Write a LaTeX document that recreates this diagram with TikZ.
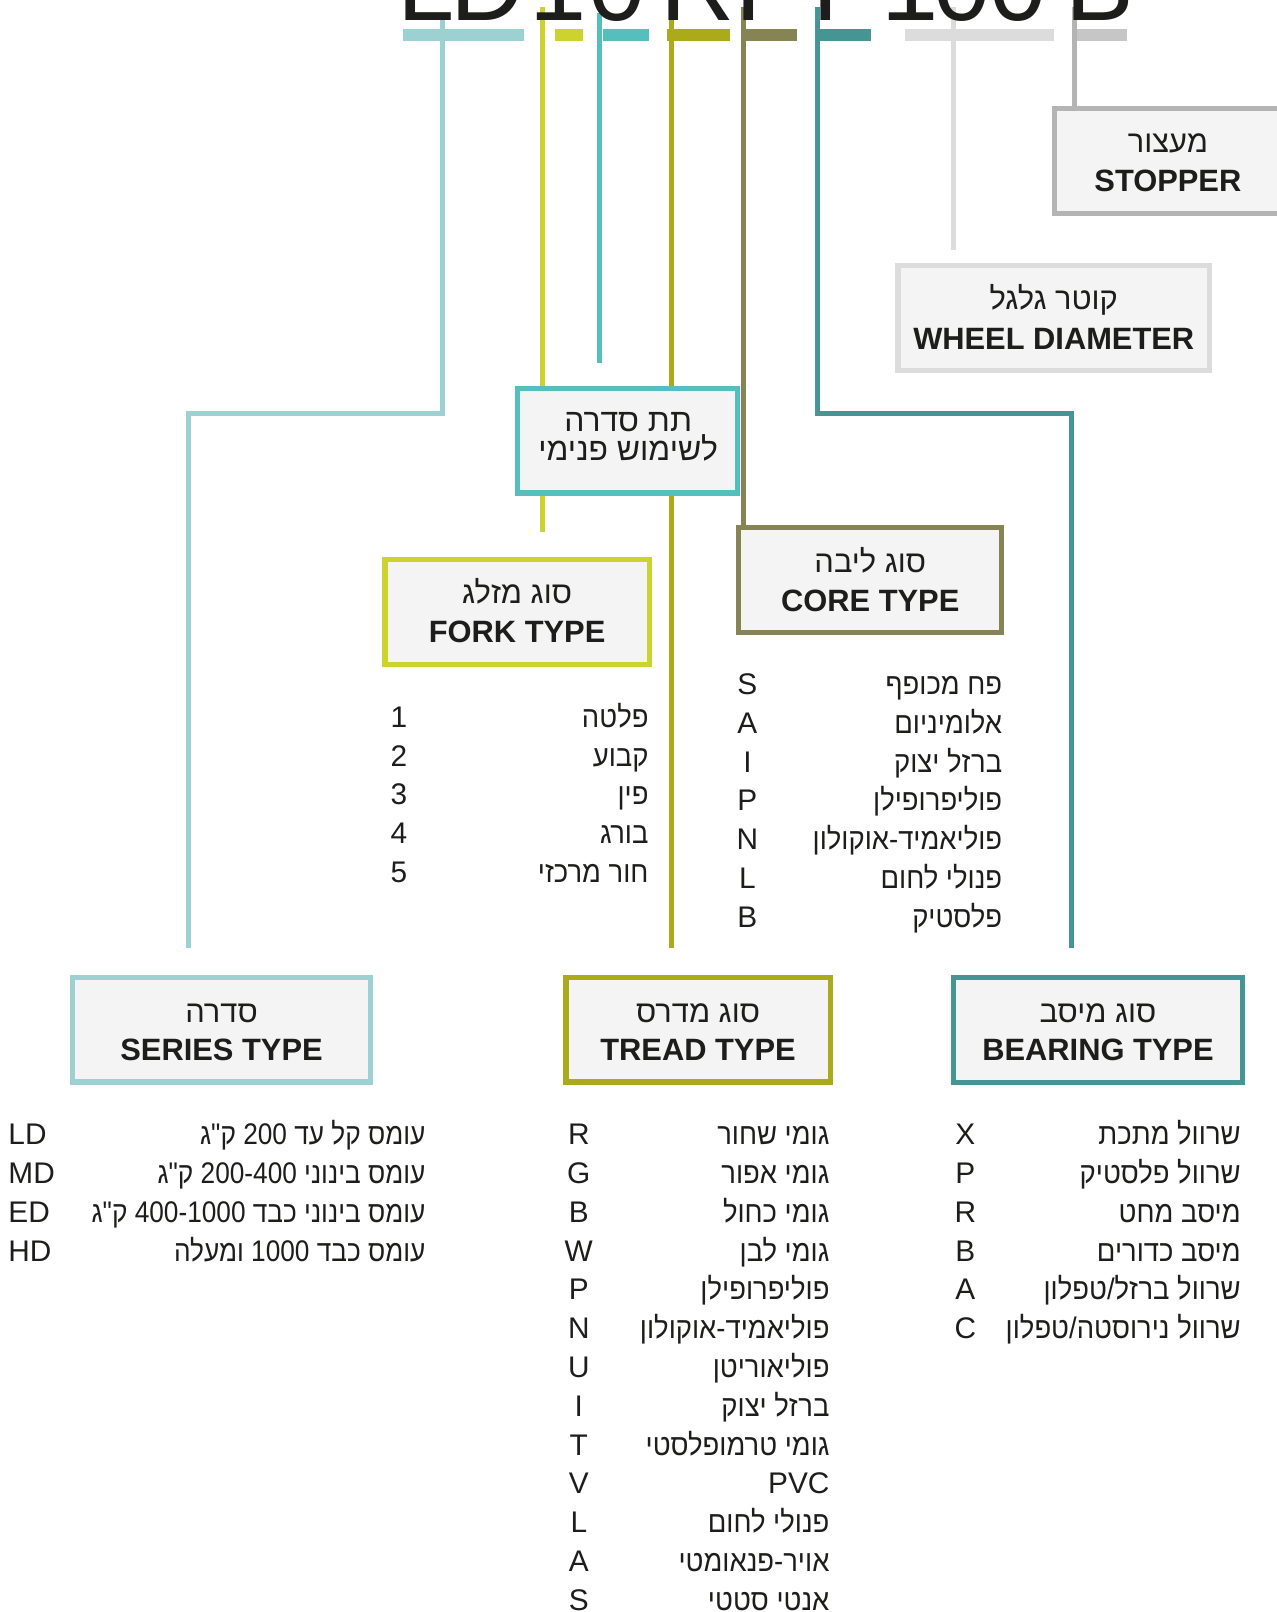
\documentclass[tikz,border=0pt]{standalone}
\usepackage{fontspec}
\setmainfont{Liberation Sans}
\newfontfamily\heb[Script=Hebrew]{Liberation Sans}
\newfontfamily\hebn[Script=Hebrew,FakeStretch=0.92]{Liberation Sans}
\newfontfamily\hebs[Script=Hebrew,FakeStretch=0.88]{Liberation Sans}
\TeXXeTstate=1
\newcommand\HE[1]{{\heb\beginR#1\endR}}
\newcommand\HN[1]{{\hebn\beginR#1\endR}}
\newcommand\HS[1]{{\hebs\beginR#1\endR}}
\newcommand\LTR[1]{\beginL#1\endL{}}
\definecolor{cSeries}{HTML}{9DD0D1}
\definecolor{cFork}{HTML}{CDD32E}
\definecolor{cSub}{HTML}{55BFBD}
\definecolor{cTread}{HTML}{AAAA1A}
\definecolor{cCore}{HTML}{868455}
\definecolor{cBear}{HTML}{449594}
\definecolor{cDiam}{HTML}{DCDCDC}
\definecolor{cStopBar}{HTML}{C6C6C6}
\definecolor{cStop}{HTML}{B4B4B4}
\definecolor{cFill}{HTML}{F4F4F4}
\definecolor{cText}{HTML}{1D1D1B}
\pgfdeclarelayer{bg}
\pgfsetlayers{bg,main}
\tikzset{
  box/.style={draw=#1, line width=5pt, fill=cFill, minimum height=102pt, inner sep=0pt},
  htit/.style={anchor=base, inner sep=0pt, text=cText, font=\fontsize{30}{30}\selectfont},
  ltit/.style={anchor=base, inner sep=0pt, text=cText, font=\fontsize{30}{30}\selectfont\bfseries},
  link/.style={draw=#1, line width=4.9pt},
  item/.style={anchor=base east, inner sep=0pt, text=cText, font=\fontsize{29}{30}\selectfont},
  code/.style={anchor=base, inner sep=0pt, text=cText, font=\fontsize{29}{30}\selectfont},
  codew/.style={anchor=base west, inner sep=0pt, text=cText, font=\fontsize{29}{30}\selectfont},
}
\begin{document}
\begin{tikzpicture}[x=1pt,y=-1pt]
\useasboundingbox (0,0) rectangle (1242,1568);
\clip (0,0) rectangle (1242,1568);

% ---- boxes ----
\node[box=cStop, minimum width=221pt] (stopper) at (1136,156.5) {};
\node[htit] (stopperH) at (1136,148.5) {\HE{מעצור}};
\node[ltit] (stopperL) at (1136,186.5) {STOPPER};

\node[box=cDiam, minimum width=303pt] (diam) at (1025,309.5) {};
\node[htit] (diamH) at (1025,301.5) {\HE{קוטר גלגל}};
\node[ltit] (diamL) at (1025,339.5) {WHEEL DIAMETER};

\node[box=cSub, minimum width=214pt] (sub) at (610.5,428.5) {};
\node[htit, font=\fontsize{31}{31}\selectfont] (subH1) at (611,420) {\HE{תת סדרה}};
\node[htit, font=\fontsize{31}{31}\selectfont] (subH2) at (611,448) {\HE{לשימוש פנימי}};

\node[box=cFork, minimum width=257pt] (fork) at (503,595) {};
\node[htit] (forkH) at (503,587.5) {\HE{סוג מזלג}};
\node[ltit] (forkL) at (503,624.5) {FORK TYPE};

\node[box=cCore, minimum width=256pt] (core) at (846.5,564.5) {};
\node[htit] (coreH) at (846.5,557) {\HE{סוג ליבה}};
\node[ltit] (coreL) at (846.5,594.5) {CORE TYPE};

\node[box=cSeries, minimum width=290pt] (series) at (215.5,1001.5) {};
\node[htit] (seriesH) at (215.5,994.5) {\HE{סדרה}};
\node[ltit] (seriesL) at (215.5,1031.5) {SERIES TYPE};

\node[box=cTread, minimum width=257pt] (tread) at (679,1001.5) {};
\node[htit] (treadH) at (679,994.5) {\HE{סוג מדרס}};
\node[ltit] (treadL) at (679,1031.5) {TREAD TYPE};

\node[box=cBear, minimum width=281pt] (bearing) at (1068,1002) {};
\node[htit] (bearingH) at (1068,994.5) {\HE{סוג מיסב}};
\node[ltit] (bearingL) at (1068,1031.5) {BEARING TYPE};

% ---- connector coordinates ----
\coordinate (tSeries) at (430.5,19.5);
\coordinate (kSeries) at (183.5,402);
\coordinate (eSeries) at (183.5,922);
\coordinate (tFork) at (527.7,7);
\coordinate (eFork) at (527.7,517);
\coordinate (tSub) at (583,13);
\coordinate (eSub) at (583,353);
\coordinate (tTread) at (653,19.5);
\coordinate (eTread) at (653,922);
\coordinate (tCore) at (723.4,7);
\coordinate (tBear) at (795.3,7);
\coordinate (kBear) at (1042,402);
\coordinate (eBear) at (1042,922);
\coordinate (tDiam) at (927.3,7);
\coordinate (eDiam) at (927.3,243);
\coordinate (tStop) at (1045.2,7);

\begin{pgfonlayer}{bg}
\fill[cSeries] (391.7,28.2) rectangle (509.7,39.6);
\fill[cFork] (540,28.2) rectangle (566.8,39.6);
\fill[cSub] (587,28.2) rectangle (631.3,39.6);
\fill[cTread] (648.5,28.2) rectangle (710,39.6);
\fill[cCore] (722,28.2) rectangle (775,39.6);
\fill[cBear] (792.8,28.2) rectangle (847,39.6);
\fill[cDiam] (880.4,28.2) rectangle (1025.3,39.6);
\fill[cStopBar] (1045.7,28.2) rectangle (1096,39.6);
\draw[link=cSeries] (tSeries) |- (kSeries) -- (eSeries);
\draw[link=cFork] (tFork) -- (eFork);
\draw[link=cSub] (tSub) -- (eSub);
\draw[link=cTread] (tTread) -- (eTread);
\draw[link=cCore] (tCore) -- (tCore |- core.north);
\draw[link=cBear] (tBear) |- (kBear) -- (eBear);
\draw[link=cDiam] (tDiam) -- (eDiam);
\draw[link=cStop] (tStop) -- (tStop |- stopper.north);
\end{pgfonlayer}

% ---- title ----
\node[anchor=base west, inner sep=0pt, text=cText, font=\fontsize{100}{100}\selectfont] (title) at (386.7,20)
  {L\kern-4.7ptD\kern5.2pt1\kern1.6pt0\kern14.3ptR\kern1ptP\kern7.9ptP\kern0.4pt1\kern-4.9pt0\kern-1.1pt0\kern18.4ptB};

% ---- fork list ----
\node[code] (fc1) at (388,707.5) {1};  \node[item] (ft1) at (631,707.5) {\HN{פלטה}};
\node[code] (fc2) at (388,745.25) {2}; \node[item] (ft2) at (631,745.25) {\HN{קבוע}};
\node[code] (fc3) at (388,783) {3};    \node[item] (ft3) at (631,783) {\HN{פין}};
\node[code] (fc4) at (388,820.75) {4}; \node[item] (ft4) at (631,820.75) {\HN{בורג}};
\node[code] (fc5) at (388,858.5) {5};  \node[item] (ft5) at (631,858.5) {\HN{חור מרכזי}};

% ---- core list ----
\node[code] (cc1) at (727,675.4) {S}; \node[item] (ct1) at (975,675.4) {\HN{פח מכופף}};
\node[code] (cc2) at (727,713.2) {A}; \node[item] (ct2) at (975,713.2) {\HN{אלומיניום}};
\node[code] (cc3) at (727,751) {I};   \node[item] (ct3) at (975,751) {\HN{ברזל יצוק}};
\node[code] (cc4) at (727,788.8) {P}; \node[item] (ct4) at (975,788.8) {\HN{פוליפרופילן}};
\node[code] (cc5) at (727,826.6) {N}; \node[item] (ct5) at (975,826.6) {\HN{פוליאמיד-אוקולון}};
\node[code] (cc6) at (727,864.4) {L}; \node[item] (ct6) at (975,864.4) {\HN{פנולי לחום}};
\node[code] (cc7) at (727,902.2) {B}; \node[item] (ct7) at (975,902.2) {\HN{פלסטיק}};

% ---- series list ----
\node[codew] (sc1) at (8,1113.4) {LD};    \node[item] (st1) at (414,1113.4) {\HS{עומס קל עד \LTR{200} ק"ג}};
\node[codew] (sc2) at (8,1151.15) {MD};   \node[item] (st2) at (414,1151.15) {\HS{עומס בינוני \LTR{200-400} ק"ג}};
\node[codew] (sc3) at (8,1188.9) {ED};    \node[item] (st3) at (414,1188.9) {\HS{עומס בינוני כבד \LTR{400-1000} ק"ג}};
\node[codew] (sc4) at (8,1226.65) {HD};   \node[item] (st4) at (414,1226.65) {\HS{עומס כבד \LTR{1000} ומעלה}};

% ---- tread list ----
\node[code] (tc1) at (563,1113.4) {R};   \node[item] (tt1) at (807,1113.4) {\HN{גומי שחור}};
\node[code] (tc2) at (563,1151.15) {G};  \node[item] (tt2) at (807,1151.15) {\HN{גומי אפור}};
\node[code] (tc3) at (563,1188.9) {B};   \node[item] (tt3) at (807,1188.9) {\HN{גומי כחול}};
\node[code] (tc4) at (563,1226.65) {W};  \node[item] (tt4) at (807,1226.65) {\HN{גומי לבן}};
\node[code] (tc5) at (563,1264.4) {P};   \node[item] (tt5) at (807,1264.4) {\HN{פוליפרופילן}};
\node[code] (tc6) at (563,1302.15) {N};  \node[item] (tt6) at (807,1302.15) {\HN{פוליאמיד-אוקולון}};
\node[code] (tc7) at (563,1339.9) {U};   \node[item] (tt7) at (807,1339.9) {\HN{פוליאוריטן}};
\node[code] (tc8) at (563,1377.65) {I};  \node[item] (tt8) at (807,1377.65) {\HN{ברזל יצוק}};
\node[code] (tc9) at (563,1415.4) {T};   \node[item] (tt9) at (807,1415.4) {\HN{גומי טרמופלסטי}};
\node[code] (tc10) at (563,1453.15) {V}; \node[item] (tt10) at (807,1453.15) {PVC};
\node[code] (tc11) at (563,1490.9) {L};  \node[item] (tt11) at (807,1490.9) {\HN{פנולי לחום}};
\node[code] (tc12) at (563,1528.65) {A}; \node[item] (tt12) at (807,1528.65) {\HN{אויר-פנאומטי}};
\node[code] (tc13) at (563,1566.4) {S};  \node[item] (tt13) at (807,1566.4) {\HN{אנטי סטטי}};

% ---- bearing list ----
\node[code] (bc1) at (939,1113.4) {X};  \node[item] (bt1) at (1207,1113.4) {\HN{שרוול מתכת}};
\node[code] (bc2) at (939,1151.15) {P}; \node[item] (bt2) at (1207,1151.15) {\HN{שרוול פלסטיק}};
\node[code] (bc3) at (939,1188.9) {R};  \node[item] (bt3) at (1207,1188.9) {\HN{מיסב מחט}};
\node[code] (bc4) at (939,1226.65) {B}; \node[item] (bt4) at (1207,1226.65) {\HN{מיסב כדורים}};
\node[code] (bc5) at (939,1264.4) {A};  \node[item] (bt5) at (1207,1264.4) {\HN{שרוול ברזל/טפלון}};
\node[code] (bc6) at (939,1302.15) {C}; \node[item] (bt6) at (1207,1302.15) {\HN{שרוול נירוסטה/טפלון}};
\end{tikzpicture}
\end{document}
